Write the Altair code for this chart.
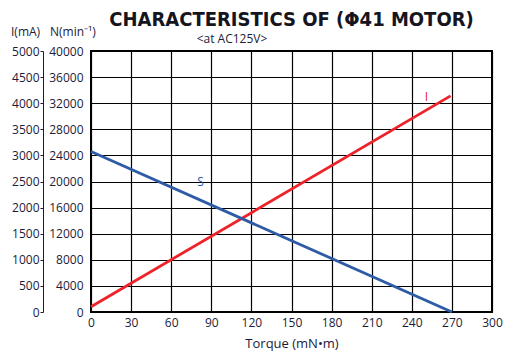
import altair as alt
import pandas as pd

# ---- data ----
torque_ticks = [0, 30, 60, 90, 120, 150, 180, 210, 240, 270, 300]
current_ticks = [0, 500, 1000, 1500, 2000, 2500, 3000, 3500, 4000, 4500, 5000]
speed_ticks = [0, 4000, 8000, 12000, 16000, 20000, 24000, 28000, 32000, 36000, 40000]

current_torque = [0, 269]
current_ma = [100, 4140]
speed_torque = [0, 270]
speed_rpm = [24600, 0]

label_i = {"t": [251], "v": [4120], "txt": ["I"]}
label_s = {"t": [82], "v": [19900], "txt": ["S"]}

RED = "#ee2229"
BLUE = "#2e5ba6"
TXT = "#1c1c38"
FONT = "Open Sans"

df_i = pd.DataFrame({"t": current_torque, "v": current_ma})
df_n = pd.DataFrame({"t": speed_torque, "v": speed_rpm})

x_enc = alt.X(
    "t:Q",
    scale=alt.Scale(domain=[0, 300], nice=False, zero=False),
    axis=alt.Axis(
        values=torque_ticks, grid=True, gridColor="black", gridWidth=1.2,
        domain=False, ticks=False, tickSize=0, labelPadding=5,
        labelFlush=False, labelOverlap=False, format="d",
        labelFont=FONT, labelFontSize=12, labelColor=TXT,
        title="Torque (mN•m)", titleFont=FONT, titleFontSize=13,
        titleFontWeight="normal", titleColor=TXT, titleY=35,
        titleBaseline="alphabetic",
    ),
)

y_i = alt.Y(
    "v:Q",
    scale=alt.Scale(domain=[0, 5000], nice=False),
    axis=alt.Axis(
        orient="left", offset=48, values=current_ticks, grid=False,
        domain=True, domainColor=TXT, domainWidth=1,
        ticks=True, tickSize=3, tickColor=TXT, labelPadding=1,
        labelFlush=False, labelOverlap=False, format="d",
        labelFont=FONT, labelFontSize=12, labelColor=TXT, title=None,
    ),
)
y_n = alt.Y(
    "v:Q",
    scale=alt.Scale(domain=[0, 40000], nice=False),
    axis=alt.Axis(
        orient="left", offset=0, values=speed_ticks, grid=True,
        gridColor="black", gridWidth=1.2, domain=False,
        ticks=False, tickSize=0, labelPadding=8,
        labelFlush=False, labelOverlap=False, format="d",
        labelFont=FONT, labelFontSize=12, labelColor=TXT, title=None,
    ),
)

line_i = alt.Chart(df_i).mark_line(color=RED, strokeWidth=2.8).encode(x=x_enc, y=y_i)
text_i = alt.Chart(pd.DataFrame(label_i)).mark_text(
    color=RED, font=FONT, fontSize=12
).encode(x=x_enc, y=y_i, text="txt:N")
layer_i = alt.layer(line_i, text_i)

line_n = alt.Chart(df_n).mark_line(color=BLUE, strokeWidth=2.8).encode(x=x_enc, y=y_n)
text_n = alt.Chart(pd.DataFrame(label_s)).mark_text(
    color=BLUE, font=FONT, fontSize=12
).encode(x=x_enc, y=y_n, text="txt:N")
layer_n = alt.layer(line_n, text_n)

one = pd.DataFrame({"a": [0]})
title_txt = alt.Chart(one).mark_text(
    text="CHARACTERISTICS OF (Φ41 MOTOR)", font="DejaVu Sans Condensed, DejaVu Sans, sans-serif",
    fontSize=20, fontWeight="bold", color="#151520", align="center",
    baseline="alphabetic",
).encode(x=alt.value(200.5), y=alt.value(-25))
sub_txt = alt.Chart(one).mark_text(
    text="<at AC125V>", font=FONT, fontSize=12, color=TXT, align="center",
    baseline="alphabetic",
).encode(x=alt.value(141), y=alt.value(-8))
ititle = alt.Chart(one).mark_text(
    text="I(mA)", font=FONT, fontSize=12, color=TXT, align="left",
    baseline="alphabetic",
).encode(x=alt.value(-80), y=alt.value(-15))
ntitle = alt.Chart(one).mark_text(
    text="N(min⁻¹)", font=FONT, fontSize=12, color=TXT, align="left",
    baseline="alphabetic",
).encode(x=alt.value(-41), y=alt.value(-15))

chart = (
    alt.layer(layer_i, layer_n, title_txt, sub_txt, ititle, ntitle)
    .resolve_scale(y="independent")
    .properties(
        width=401, height=261,
        autosize=alt.AutoSizeParams(type="none"),
        padding={"left": 91, "top": 51, "right": 22, "bottom": 44},
        background="white",
    )
    .configure_view(stroke="black", strokeWidth=2)
)

chart.save("out.html", embed_options={"renderer": "svg", "actions": False})
